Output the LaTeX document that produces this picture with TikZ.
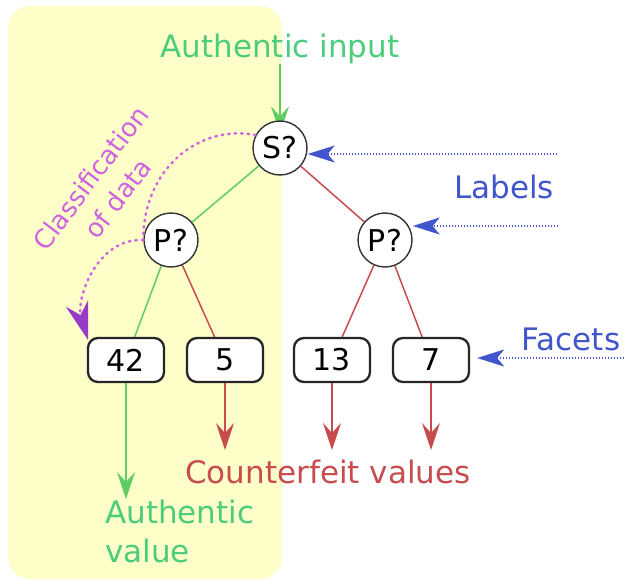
\documentclass[tikz,border=0pt]{standalone}
\usepackage{fontspec}
\setmainfont{DejaVu Sans}
\usetikzlibrary{arrows.meta}
\pgfdeclarelayer{edges}
\pgfdeclarelayer{region}
\pgfsetlayers{region,edges,main}
\definecolor{hiyellow}{RGB}{254,254,200}
\definecolor{okgreen}{RGB}{95,205,100}
\definecolor{oktext}{RGB}{75,205,125}
\definecolor{badred}{RGB}{200,75,78}
\definecolor{infoblue}{RGB}{65,85,205}
\definecolor{classtext}{RGB}{205,100,225}
\definecolor{classtip}{RGB}{150,60,200}
\tikzset{
  question/.style={circle, draw=black!80, line width=1.4pt, fill=white, minimum size=54pt, inner sep=0pt, font=\fontsize{30}{30}\selectfont},
  facet/.style={rectangle, rounded corners=10pt, draw=black!85, line width=2.3pt, fill=white, minimum width=76pt, minimum height=44pt, font=\fontsize{30}{30}\selectfont},
  goodline/.style={draw=okgreen, line width=1.5pt},
  badline/.style={draw=badred, line width=1.5pt},
  spear/.style={-{Stealth[length=27pt, width=18pt, inset=10pt]}},
  goodarrow/.style={goodline, spear},
  badarrow/.style={badline, spear},
  pointer/.style={draw=infoblue, line width=1.8pt, dash pattern=on 1.5pt off 1.5pt, -{Stealth[length=27pt, width=17pt, inset=7pt]}},
  classline/.style={draw=classtext, line width=2.5pt, dash pattern=on 1.5pt off 5pt, line cap=round},
  caption/.style={font=\fontsize{31}{39}\selectfont, inner sep=0pt},
}
\begin{document}
\begin{tikzpicture}[x=1pt, y=-1pt]
  \useasboundingbox (0,0) rectangle (624,581);
  % authentic region
  \begin{pgfonlayer}{region}
    \fill[hiyellow, rounded corners=22pt] (8,6) rectangle (282,579);
  \end{pgfonlayer}

  % decision nodes
  \node[question] (s) at (280,148) {S?};
  \node[question] (pl) at (171,240) {P?};
  \node[question] (pr) at (385,240) {P?};

  % facet values
  \node[facet] (f42) at (126,360) {42};
  \node[facet] (f5) at (225,360) {5};
  \node[facet] (f13) at (332,360) {13};
  \node[facet] (f7) at (431,360) {7};

  % captions
  \node[caption, text=oktext, anchor=base] (inp) at (280,57) {Authentic input};
  \node[caption, text=badred, anchor=base] (cf) at (328,483) {Counterfeit values};
  \node[caption, text=oktext, align=left, anchor=base west] (av) at (105,562) {Authentic\\value};
  \node[caption, text=infoblue, anchor=base] (lab) at (504,198) {Labels};
  \node[caption, text=infoblue, anchor=base] (fac) at (571,350) {Facets};
  \node[text=classtext, font=\fontsize{26}{34}\selectfont, align=center, rotate=53, inner sep=0pt] (cls) at (104,188) {Classification\\of data};

  \begin{pgfonlayer}{edges}
    % tree edges
    \draw[goodline] (s) -- (pl);
    \draw[badline] (s) -- (pr);
    \draw[goodline] (pl) -- (f42);
    \draw[badline] (pl) -- (f5);
    \draw[badline] (pr) -- (f13);
    \draw[badline] (pr) -- (f7);
    % input arrow, its tip tucked under the node
    \draw[goodarrow, shorten >=-13pt] (inp.south -| s) -- (s);
  \end{pgfonlayer}

  % outputs
  \coordinate (o42) at (126,499);
  \coordinate (o5) at (225,450);
  \coordinate (o13) at (332,450);
  \coordinate (o7) at (431,450);
  \draw[goodarrow] (f42) -- (o42);
  \draw[badarrow] (f5) -- (o5);
  \draw[badarrow] (f13) -- (o13);
  \draw[badarrow] (f7) -- (o7);

  % pointers to labels and facets
  \coordinate (l1) at (557,154);
  \coordinate (l2) at (558,226);
  \coordinate (l3) at (624,358);
  \draw[pointer] (l1) -- (s.east |- l1);
  \draw[pointer] (l2) -- (pr.east |- l2);
  \draw[pointer, shorten >=7pt] (l3) -- (f7.east |- l3);

  % classification path
  \coordinate (c1) at (s.152);
  \coordinate (c3) at (88,340);
  \draw[classline] (c1) .. controls (198,124) and (143,170) .. (pl.west);
  \draw[classline, -{Stealth[length=38pt, width=23pt, inset=12pt, color=classtip, line cap=butt, sep=0pt]}]
    (pl.west) .. controls (96,238) and (76,300) .. (c3);
\end{tikzpicture}
\end{document}
